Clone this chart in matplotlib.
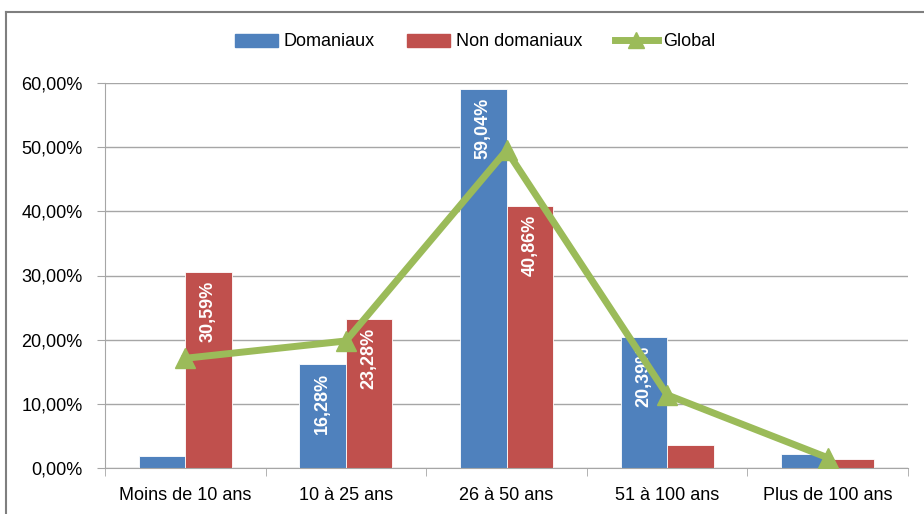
import numpy as np
import matplotlib.pyplot as plt
from matplotlib.lines import Line2D
from matplotlib.ticker import FuncFormatter

plt.rcParams['font.family'] = ['Liberation Sans', 'DejaVu Sans']

categories = ["Moins de 10 ans", "10 à 25 ans", "26 à 50 ans", "51 à 100 ans", "Plus de 100 ans"]
domaniaux = [1.9, 16.28, 59.04, 20.39, 2.2]
non_domaniaux = [30.59, 23.28, 40.86, 3.6, 1.4]
global_vals = [17.1, 19.8, 49.5, 11.4, 1.6]
labels_dom = [None, "16,28%", "59,04%", "20,39%", None]
labels_non = ["30,59%", "23,28%", "40,86%", None, None]

blue = "#4F81BD"
red = "#C0504D"
green = "#9BBB59"
grid_col = "#A6A6A6"

fig = plt.figure(figsize=(9.24, 5.14), dpi=100)
ax = fig.add_axes([105/924, 1 - 468/514, (908 - 105)/924, (468 - 83)/514])

x = np.arange(len(categories))
w = 0.29
b1 = ax.bar(x - w/2, domaniaux, w, color=blue, edgecolor="white", linewidth=0.6, zorder=2, label="Domaniaux")
b2 = ax.bar(x + w/2, non_domaniaux, w, color=red, edgecolor="white", linewidth=0.6, zorder=2, label="Non domaniaux")
ax.plot(x, global_vals, color=green, lw=5, marker="^", ms=14, zorder=3, label="Global")

for bars, labs in ((b1, labels_dom), (b2, labels_non)):
    for rect, lab in zip(bars, labs):
        if lab is None:
            continue
        ax.text(rect.get_x() + rect.get_width()/2, rect.get_height() - 1.4, lab,
                rotation=90, ha="center", va="top", color="white",
                fontsize=13, fontweight="bold", zorder=2.5)

ax.set_xlim(-0.5, 4.5)
ax.set_ylim(0, 60)
ax.set_yticks(np.arange(0, 61, 10))
ax.yaxis.set_major_formatter(FuncFormatter(lambda v, p: f"{v:.2f}%".replace(".", ",")))
ax.set_xticks(x)
ax.set_xticklabels(categories)
ax.set_xticks(np.arange(-0.5, 5, 1), minor=True)
ax.tick_params(axis="x", which="major", length=0, pad=14, labelsize=13)
ax.tick_params(axis="x", which="minor", length=6, color=grid_col)
ax.tick_params(axis="y", length=6, color=grid_col, labelsize=13, pad=10)
ax.grid(axis="y", color=grid_col, lw=1, zorder=0)
ax.set_axisbelow(True)
for s in ("top", "right"):
    ax.spines[s].set_visible(False)
for s in ("left", "bottom"):
    ax.spines[s].set_color(grid_col)

handles = [
    plt.Rectangle((0, 0), 1, 1, color=blue),
    plt.Rectangle((0, 0), 1, 1, color=red),
    Line2D([], [], color=green, lw=5, marker="^", ms=12),
]
fig.legend(handles, ["Domaniaux", "Non domaniaux", "Global"], loc="center",
           bbox_to_anchor=(475/924, 1 - 42/514), ncol=3, frameon=False,
           fontsize=13, handlelength=2.4, handletextpad=0.3, columnspacing=1.8)

# outer chart border
fig.add_artist(Line2D([6/924, 1.0], [1 - 12/514] * 2, color="#7F7F7F", lw=1.5, transform=fig.transFigure))
fig.add_artist(Line2D([6/924] * 2, [0, 1 - 12/514], color="#7F7F7F", lw=1.5, transform=fig.transFigure))

fig.savefig("out.png", dpi=100)
